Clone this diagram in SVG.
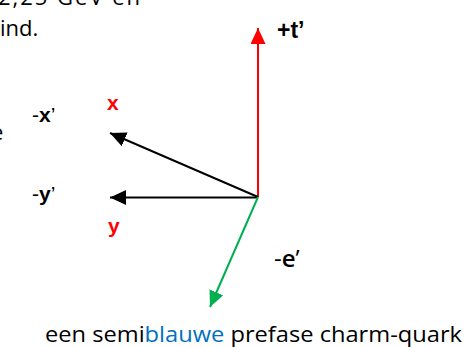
<svg xmlns="http://www.w3.org/2000/svg" width="464" height="347" viewBox="0 0 464 347">
<style>
.body{font-family:"Open Sans","Liberation Sans",sans-serif;font-size:22px;fill:#000}
.lbl{font-family:"Liberation Sans",Arial,sans-serif;font-size:21px;fill:#000}
.b{font-weight:bold}
.red{fill:#ff0000}
.ax{fill:none;stroke-width:2}
</style>
<defs>
<marker id="ab" viewBox="0 0 16 15" refX="16" refY="7.5" markerWidth="16" markerHeight="15" markerUnits="userSpaceOnUse" orient="auto"><path d="M0,0 L16,7.5 L0,15 z" fill="#000"/></marker>
<marker id="ar" viewBox="0 0 16 15" refX="16" refY="7.5" markerWidth="16" markerHeight="15" markerUnits="userSpaceOnUse" orient="auto"><path d="M0,0 L16,7.5 L0,15 z" fill="#ff0000"/></marker>
<marker id="ag" viewBox="0 0 16 15" refX="16" refY="7.5" markerWidth="16" markerHeight="15" markerUnits="userSpaceOnUse" orient="auto"><path d="M0,0 L16,7.5 L0,15 z" fill="#00b050"/></marker>
</defs>
<rect width="464" height="347" fill="#fff"/>
<g id="bodytext">
<text class="body" x="-2" y="5" textLength="142" lengthAdjust="spacing">2,25 GeV en</text>
<text class="body" x="0" y="36">ind.</text>
<text class="body" x="-9" y="140">e</text>
<text class="body" x="45" y="342" textLength="417" lengthAdjust="spacingAndGlyphs">een semi<tspan fill="#0070c0">blauwe</tspan> prefase charm-quark</text>
</g>
<g id="connectors">
<path class="ax" stroke="#ff0000" d="M258,197 L258,28" marker-end="url(#ar)"/>
<path class="ax" stroke="#000" d="M258,197 L110,133" marker-end="url(#ab)"/>
<path class="ax" stroke="#000" d="M258,197.5 L110,197.5" marker-end="url(#ab)"/>
<path class="ax" stroke="#00b050" d="M258,197 L210,307" marker-end="url(#ag)"/>
</g>
<g id="label-t"><text class="lbl b" x="277" y="38" style="font-size:23px">+t’</text></g>
<g id="label-x"><text class="lbl b red" x="107" y="110">x</text></g>
<g id="label-mx"><text class="lbl" x="32" y="122">-<tspan class="b">x</tspan>’</text></g>
<g id="label-my"><text class="lbl" x="32" y="201">-<tspan class="b">y</tspan>’</text></g>
<g id="label-y"><text class="lbl b red" x="108" y="233">y</text></g>
<g id="label-e"><text class="body" x="274" y="267" style="font-size:24px">-<tspan font-weight="600">e</tspan>’</text></g>
</svg>
